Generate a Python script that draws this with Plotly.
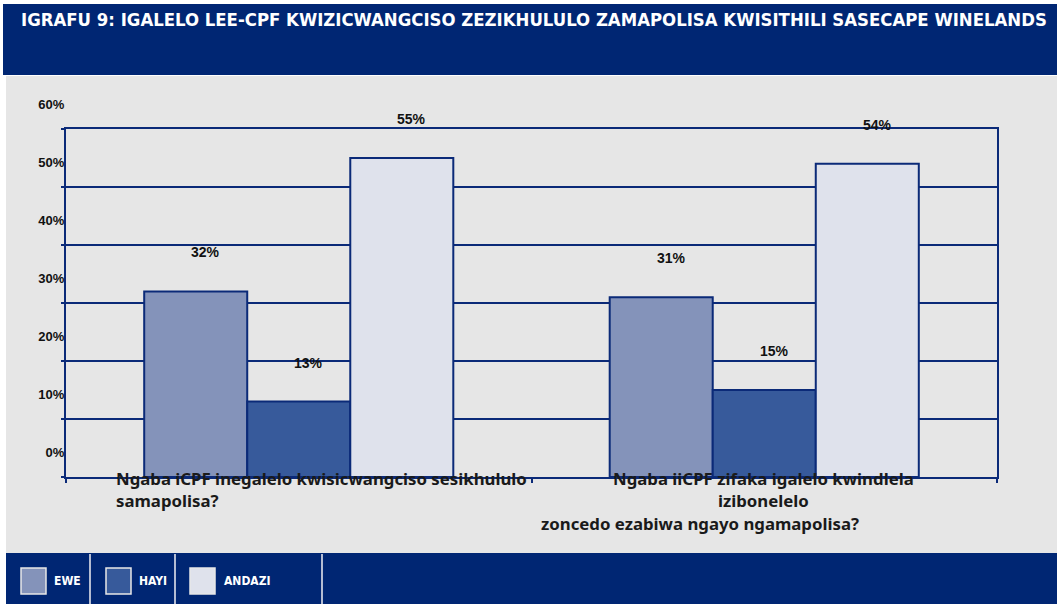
import plotly.graph_objects as go

# ---- data ----
categories = [
    "Ngaba iCPF inegalelo kwisicwangciso sesikhululo samapolisa?",
    "Ngaba iiCPF zifaka igalelo kwindlela izibonelelo zoncedo ezabiwa ngayo ngamapolisa?",
]
series_names = ["EWE", "HAYI", "ANDAZI"]
ewe = [32, 31]
hayi = [13, 15]
andazi = [55, 54]
title_text = "IGRAFU 9: IGALELO LEE-CPF KWIZICWANGCISO ZEZIKHULULO ZAMAPOLISA KWISITHILI SASECAPE WINELANDS"
y_ticks = [0, 10, 20, 30, 40, 50, 60]

series_values = [ewe, hayi, andazi]
colors = ["#8493ba", "#375a9b", "#dfe2ec"]
NAVY = "#002673"
LINE = "#0b2a78"

W_PX, H_PX = 1057, 604
L, R, T, B = 66, 997, 129, 477
PW, PH = R - L, B - T


def px(x):
    return (x - L) / PW


def py(y):
    return (B - y) / PH


fig = go.Figure()
for name, vals, col in zip(series_names, series_values, colors):
    fig.add_bar(
        name=name, x=categories, y=vals,
        marker=dict(color=col, line=dict(color=LINE, width=2)),
        showlegend=False,
    )

shapes = []
# background panels
shapes.append(dict(type="rect", xref="paper", yref="paper", x0=px(6), x1=px(W_PX), y0=py(553), y1=py(76),
                   fillcolor="#e6e6e6", line=dict(width=0), layer="below"))
shapes.append(dict(type="rect", xref="paper", yref="paper", x0=px(3), x1=px(W_PX), y0=py(75), y1=py(4),
                   fillcolor=NAVY, line=dict(width=0), layer="below"))
shapes.append(dict(type="rect", xref="paper", yref="paper", x0=px(6), x1=px(W_PX), y0=py(H_PX), y1=py(553),
                   fillcolor=NAVY, line=dict(width=0), layer="below"))
# legend separators
for sx in [90, 175, 322]:
    shapes.append(dict(type="line", xref="paper", yref="paper", x0=px(sx), x1=px(sx), y0=py(H_PX), y1=py(554),
                       line=dict(color="#b4bcd2", width=2)))

annotations = []
# title
annotations.append(dict(text=f"<b>{title_text}</b>", xref="paper", yref="paper", x=px(19), y=py(19),
                        xanchor="left", yanchor="middle", showarrow=False,
                        font=dict(family="DejaVu Sans Condensed", size=18.4, color="white")))

# legend
leg_boxes = [21, 106, 190]
leg_text_x = [52, 137, 222]
for name, col, bx, tx in zip(series_names, colors, leg_boxes, leg_text_x):
    shapes.append(dict(type="rect", xref="paper", yref="paper", x0=px(bx), x1=px(bx + 25),
                       y0=py(594), y1=py(568), fillcolor=col, line=dict(color="#e8e8e8", width=1.5)))
    annotations.append(dict(text=f"<b>{name}</b>", xref="paper", yref="paper", x=px(tx), y=py(581),
                            xanchor="left", yanchor="middle", showarrow=False,
                            font=dict(family="DejaVu Sans Condensed", size=12, color="white")))

# data labels
bar_w = PW / 2 * (1 - 0.336) / 3
for i, vals in enumerate(series_values):
    for cat, v in zip(categories, vals):
        annotations.append(dict(text=f"<b>{v}%</b>", x=cat, y=v, xref="x", yref="y",
                                xshift=(i - 1) * bar_w + 10, yshift=39, showarrow=False,
                                yanchor="middle", xanchor="center",
                                font=dict(family="Liberation Sans", size=14, color="#111111")))

# category labels
cat_font = dict(family="Noto Sans", size=16.8, color="#1a1a1a")
annotations.append(dict(text="<b>Ngaba iCPF inegalelo kwisicwangciso sesikhululo<br>samapolisa?</b>",
                        xref="paper", yref="paper", x=px(114), y=py(465), xanchor="left", yanchor="top",
                        align="left", showarrow=False, font=cat_font))
annotations.append(dict(text="<b>Ngaba iiCPF zifaka igalelo kwindlela<br>izibonelelo</b>",
                        xref="paper", yref="paper", x=px(763), y=py(465), xanchor="center", yanchor="top",
                        align="center", showarrow=False, font=cat_font))
annotations.append(dict(text="<b>zoncedo ezabiwa ngayo ngamapolisa?</b>",
                        xref="paper", yref="paper", x=px(700), y=py(523), xanchor="center", yanchor="middle",
                        align="center", showarrow=False, font=cat_font))

fig.update_layout(
    width=W_PX, height=H_PX,
    margin=dict(l=L, r=W_PX - R, t=T, b=H_PX - B, pad=0),
    paper_bgcolor="white", plot_bgcolor="white",
    barmode="group", bargap=0.336, bargroupgap=0,
    shapes=shapes, annotations=annotations,
    showlegend=False,
)
fig.update_xaxes(showticklabels=False, showline=True, linecolor=LINE, linewidth=2, mirror=True,
                 ticks="outside", tickson="boundaries", ticklen=4, tickcolor=LINE, tickwidth=2,
                 showgrid=False)
fig.update_yaxes(range=[0, 60], tickvals=y_ticks, ticktext=[f"<b>{t}%</b>" for t in y_ticks],
                 showline=True, linecolor=LINE, linewidth=2, mirror=True,
                 ticks="outside", ticklen=3, tickcolor=LINE, tickwidth=2,
                 showgrid=True, gridcolor=LINE, gridwidth=1.5, zeroline=False,
                 ticklabelshift=-25, ticklabelstandoff=-6,
                 tickfont=dict(family="Liberation Sans", size=13, color="#111111"))

fig.write_html("out.html", config={"displayModeBar": False},
               post_script="document.body.style.margin='0';document.body.style.overflow='hidden';")
